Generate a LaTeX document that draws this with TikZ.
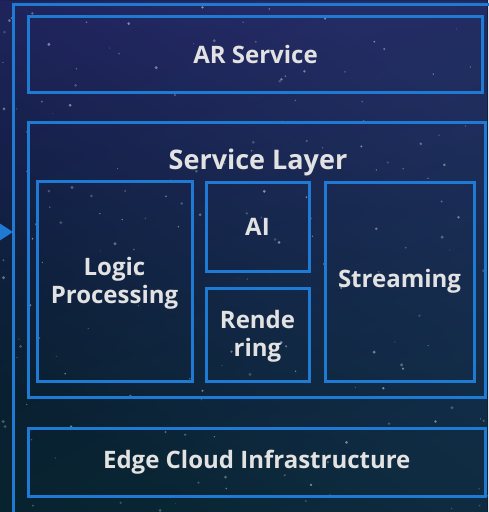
\documentclass[tikz,border=0pt]{standalone}
\usepackage{fontspec}
\setmainfont{Open Sans}
\usetikzlibrary{arrows.meta,fadings}
\definecolor{bgtop}{HTML}{0F1A44}
\definecolor{bgmid}{HTML}{0A1833}
\definecolor{bgbot}{HTML}{061820}
\definecolor{bgpurple}{HTML}{33337A}
\definecolor{bgteal}{HTML}{0D3447}
\definecolor{boxblue}{HTML}{1E7AD2}
\definecolor{txt}{HTML}{E2E2E2}
\tikzfading[name=fadeTR, bottom color=transparent!100, middle color=transparent!100, top color=transparent!30]
\tikzfading[name=fadeBR, top color=transparent!100, middle color=transparent!100, bottom color=transparent!40]
\begin{document}
\begin{tikzpicture}[x=1pt,y=-1pt,
  box/.style={draw=boxblue, line width=3pt, inner sep=0pt},
  lbl/.style={text=txt, font=\bfseries\fontsize{24}{28}\selectfont, align=center},
  star/.style={fill=white}]
\useasboundingbox (0,0) rectangle (488,512);
% background
\shade[top color=bgtop, middle color=bgmid, bottom color=bgbot] (0,0) rectangle (488,512);
\fill[bgpurple, path fading=fadeTR, fading angle=-35] (0,0) rectangle (488,512);
\fill[bgteal, path fading=fadeBR, fading angle=30] (0,0) rectangle (488,512);
% stars
\pgfmathsetseed{42}
\foreach \i in {1,...,170}{
  \pgfmathsetmacro\sx{rnd*488}
  \pgfmathsetmacro\sy{rnd*512}
  \pgfmathsetmacro\sr{0.5+rnd*1.2}
  \pgfmathsetmacro\so{0.15+rnd*0.35}
  \fill[star, opacity=\so] (\sx,\sy) circle (\sr pt);
}
% outer frame
\coordinate (fr1) at (13.5,530);
\coordinate (fr2) at (13.5,4.5);
\coordinate (fr3) at (510,4.5);
\draw[boxblue, line width=3pt] (fr1) -- (fr2) -- (fr3);
% incoming arrow
\coordinate (src) at (-40,232);
\coordinate (dst) at (13,232);
\draw[boxblue, line width=3pt, -{Triangle[length=13pt,width=16pt]}] (src) -- (dst);
% boxes
\node[box, lbl, minimum width=454pt, minimum height=76pt] (ar) at (255.5,54.5) {AR Service};
\node[box, minimum width=457pt, minimum height=275pt] (svc) at (257,260) {};
\node[lbl, anchor=base, font=\bfseries\fontsize{27}{32}\selectfont] (svct) at (258,169.5) {Service Layer};
\node[box, minimum width=155pt, minimum height=199.5pt] (logic) at (114.5,281.25) {};
\node[lbl] (logict) at (114.5,283) {Logic\\Processing};
\node[box, lbl, minimum width=103pt, minimum height=89pt] (ai) at (257.5,226.5) {AI};
\node[box, minimum width=103pt, minimum height=93pt] (rend) at (257.5,334.5) {};
\node[lbl] (rendt) at (257.5,336) {Rende\\ring};
\node[box, lbl, minimum width=149pt, minimum height=199pt] (stream) at (399.5,281.5) {Streaming};
\node[box, lbl, minimum width=456.5pt, minimum height=67.5pt] (edge) at (256.75,462.25) {Edge Cloud Infrastructure};
\end{tikzpicture}
\end{document}
